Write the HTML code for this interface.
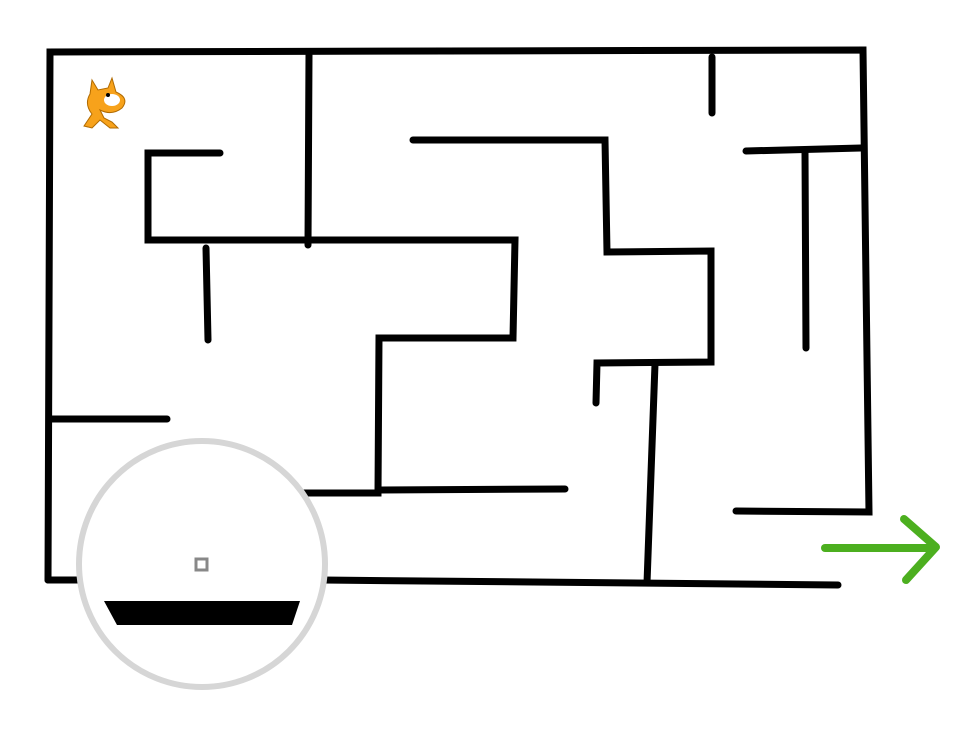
<!DOCTYPE html>
<html><head><style>html,body{margin:0;padding:0;background:#fff}svg{display:block}</style></head>
<body>
<svg width="960" height="735" viewBox="0 0 960 735" xmlns="http://www.w3.org/2000/svg">
<rect width="960" height="735" fill="#fff"/>
<g fill="none" stroke="#000" stroke-width="7" stroke-linecap="round" stroke-linejoin="miter">
<polyline points="48,580 50,52 863,50 869,512 736,511"/>
<line x1="48" y1="580" x2="82" y2="580"/>
<line x1="322" y1="580" x2="838" y2="585"/>
<line x1="309" y1="55" x2="308" y2="245"/>
<line x1="712" y1="57" x2="712" y2="113"/>
<line x1="746" y1="151" x2="861" y2="148"/>
<line x1="805" y1="152" x2="806" y2="348"/>
<polyline points="220,153 148,153 148,240 515,240 513,338 379,338 378,493 299,493"/>
<line x1="380" y1="490" x2="565" y2="489"/>
<line x1="206" y1="248" x2="208" y2="340"/>
<polyline points="413,140 605,140 607,252 711,251 711,362 597,363 596,403"/>
<line x1="655" y1="364" x2="647" y2="583"/>
<line x1="52" y1="419" x2="167" y2="419"/>
</g>
<circle cx="202" cy="564" r="123" fill="#fff" stroke="#d6d6d6" stroke-width="6"/>
<rect x="196" y="559" width="11" height="11" fill="none" stroke="#888" stroke-width="3"/>
<polygon points="104,601 300,601 292,625 117,625" fill="#000"/>
<g fill="none" stroke="#4caf1f" stroke-width="8" stroke-linecap="round" stroke-linejoin="round">
<line x1="825" y1="548" x2="933" y2="548"/>
<polyline points="904,519 936,547 906,580"/>
</g>
<g>
<path d="M92,80 L98,90 L108,88 L112,78 L116,92 Q130,98 122,108 Q112,116 100,110 L104,118 L112,122 L118,128 L110,128 L100,120 L92,128 L84,126 L92,114 Q84,104 90,94 Z" fill="#f7a21b" stroke="#b06a00" stroke-width="1"/>
<ellipse cx="112" cy="100" rx="8" ry="6" fill="#fff"/>
<circle cx="108" cy="95" r="2" fill="#000"/>
</g>
</svg>
</body></html>
